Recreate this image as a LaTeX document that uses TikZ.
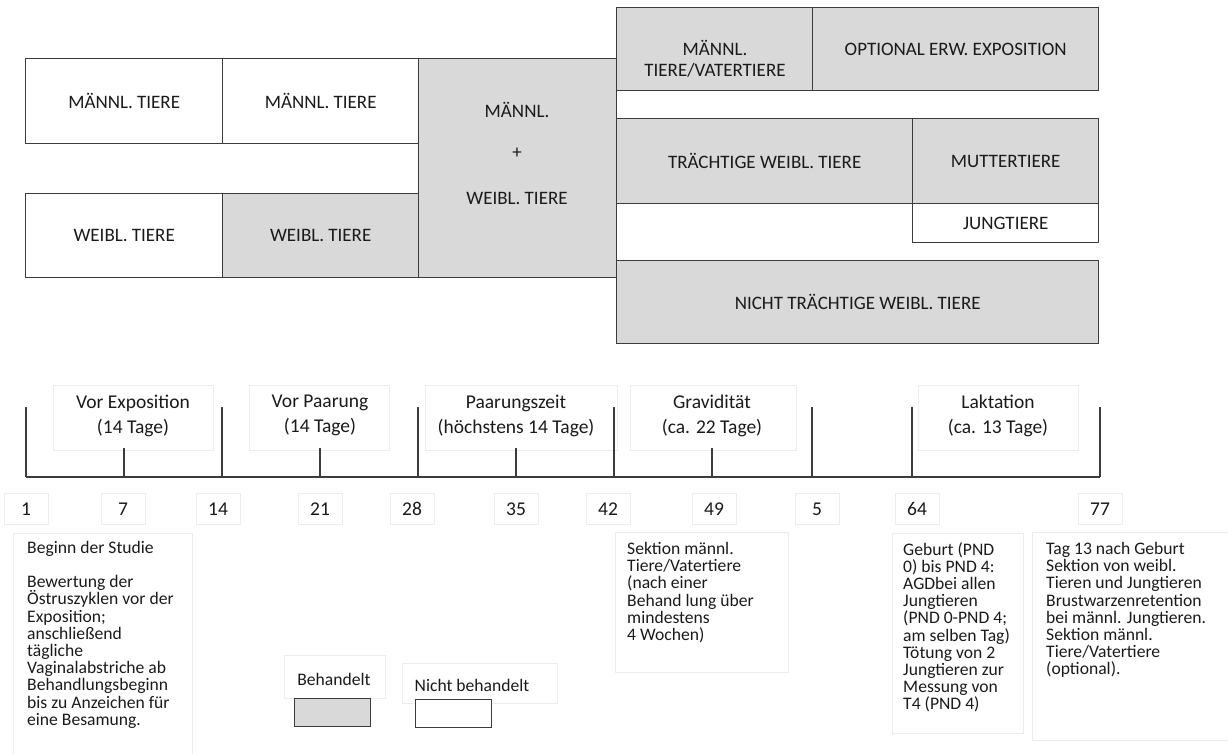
\documentclass[tikz,border=0pt]{standalone}
\usepackage{fontspec}
\setmainfont{Carlito}
\definecolor{fillg}{HTML}{D9D9D9}
\definecolor{edgec}{HTML}{3C3C3C}
\definecolor{faintc}{HTML}{ECECEC}
\definecolor{txt}{HTML}{1A1A1A}
\tikzset{
  grp/.style={draw=edgec, line width=1.4pt, anchor=north west, inner sep=0pt, text=txt,
    font=\fontsize{19}{22}\selectfont, align=center},
  grptext/.style={text=txt, font=\fontsize{19}{22}\selectfont, inner sep=0pt},
  faint/.style={draw=faintc, line width=1pt, anchor=north west, inner sep=0pt},
  lbl/.style={text=txt, font=\fontsize{19.5}{25}\selectfont, align=center, inner sep=0pt},
  num/.style={draw=faintc, line width=1pt, text=txt, font=\fontsize{19.5}{22}\selectfont,
    minimum width=44pt, minimum height=31pt, inner sep=0pt},
  body/.style={text=txt, font=\fontsize{17.6}{17.2}\selectfont,
    align=left, anchor=north west, inner sep=0pt},
  legtext/.style={text=txt, font=\fontsize{17.6}{20}\selectfont, inner sep=0pt},
  tl/.style={draw=edgec, line width=1.5pt},
  swatch/.style={draw=edgec, line width=1.4pt, anchor=north west, minimum width=76pt,
    minimum height=28pt, inner sep=0pt}
}
\begin{document}
\lineskiplimit=-50pt\relax
\begin{tikzpicture}[x=1pt, y=-1pt]
\useasboundingbox (0,0) rectangle (1228,753);

% ---- group boxes ----
\node[grp, minimum width=197pt, minimum height=85pt] (m1) at (25,58) {MÄNNL. TIERE};
\node[grp, minimum width=196pt, minimum height=85pt] (m2) at (222,58) {MÄNNL. TIERE};
\node[grp, minimum width=197pt, minimum height=84pt] (w1) at (25,193) {WEIBL. TIERE};
\node[grp, fill=fillg, minimum width=196pt, minimum height=84pt] (w2) at (222,193) {WEIBL. TIERE};
\node[grp, fill=fillg, minimum width=198pt, minimum height=219pt] (mw) at (418,58) {};
\node[grptext] (mwa) at (517,110) {MÄNNL.};
\node[grptext] (mwb) at (517,153) {+};
\node[grptext] (mwc) at (517,198) {WEIBL. TIERE};

\node[grp, fill=fillg, minimum width=196pt, minimum height=83pt] (vt) at (616,7) {};
\node[grptext] (vta) at (715,48) {MÄNNL.};
\node[grptext] (vtb) at (715,70) {TIERE/VATERTIERE};
\node[grp, fill=fillg, minimum width=286pt, minimum height=83pt] (opt) at (812,7) {OPTIONAL ERW. EXPOSITION};
\node[grp, fill=fillg, minimum width=296pt, minimum height=85pt] (tr) at (616,118) {TRÄCHTIGE WEIBL. TIERE};
\node[grp, fill=fillg, minimum width=186pt, minimum height=85pt] (mu) at (912,118) {MUTTERTIERE};
\node[grp, minimum width=186pt, minimum height=39pt] (ju) at (912,203) {JUNGTIERE};
\node[grp, fill=fillg, minimum width=482pt, minimum height=83pt] (nt) at (616,260) {NICHT TRÄCHTIGE WEIBL. TIERE};

% ---- phase labels ----
\node[faint, minimum width=160pt, minimum height=65pt] (fb1) at (53,385) {};
\node[faint, minimum width=140pt, minimum height=65pt] (fb2) at (249,385) {};
\node[faint, minimum width=192pt, minimum height=65pt] (fb3) at (425,385) {};
\node[faint, minimum width=166pt, minimum height=65pt] (fb4) at (630,385) {};
\node[faint, minimum width=160pt, minimum height=65pt] (fb5) at (918,385) {};
\node[lbl] (p1) at (133,415.5) {Vor Exposition\\(14 Tage)};
\node[lbl] (p2) at (320,415.5) {Vor Paarung\\(14 Tage)};
\node[lbl] (p3) at (516,415.5) {Paarungszeit\\(höchstens 14 Tage)};
\node[lbl] (p4) at (712,415.5) {Gravidität\\(ca. 22 Tage)};
\node[lbl] (p5) at (998,415.5) {Laktation\\(ca. 13 Tage)};

% ---- timeline ----
\coordinate (t1) at (26,477);
\coordinate (t7) at (124,477);
\coordinate (t14) at (222,477);
\coordinate (t21) at (320,477);
\coordinate (t28) at (418,477);
\coordinate (t35) at (516,477);
\coordinate (t42) at (614,477);
\coordinate (t49) at (712,477);
\coordinate (t56) at (812,477);
\coordinate (t64) at (912,477);
\coordinate (t77) at (1100,477);
\draw[tl] (t1) -- (t77);
\foreach \t in {t1,t14,t28,t42,t56,t64,t77} \draw[tl, line width=1.3pt] (\t) -- ++(0,-70);
\foreach \t in {t7,t21,t35,t49} \draw[tl, line width=1.3pt] (\t) -- ++(0,-29);

% ---- day numbers ----
\node[num] (n1) at (26,509) {1};
\node[num] (n7) at (123,509) {7};
\node[num] (n14) at (218,509) {14};
\node[num] (n21) at (320,509) {21};
\node[num] (n28) at (412,509) {28};
\node[num] (n35) at (516,509) {35};
\node[num] (n42) at (608,509) {42};
\node[num] (n49) at (714,509) {49};
\node[num] (n5) at (817,509) {5};
\node[num] (n64) at (917,509) {64};
\node[num] (n77) at (1100,509) {77};

% ---- notes ----
\node[faint, minimum width=179pt, minimum height=222pt] (bb1) at (13,533) {};
\node[faint, minimum width=173pt, minimum height=140pt] (bb2) at (615,532) {};
\node[faint, minimum width=131pt, minimum height=200pt] (bb3) at (892,533) {};
\node[faint, minimum width=200pt, minimum height=208pt] (bb4) at (1032,532) {};

\node[body] (tx1) at (27,541) {Beginn der Studie\\[17pt]Bewertung der\\Östruszyklen vor der\\Exposition;\\anschließend\\tägliche\\Vaginalabstriche ab\\Behandlungsbeginn\\bis zu Anzeichen für\\eine Besamung.};
\node[body] (tx2) at (627,542) {Sektion männl.\\Tiere/Vatertiere\\(nach einer\\Behand lung über\\mindestens\\4 Wochen)};
\node[body] (tx3) at (903,542) {Geburt (PND\\0) bis PND 4:\\AGDbei allen\\Jungtieren\\(PND 0-PND 4;\\am selben Tag)\\Tötung von 2\\Jungtieren zur\\Messung von\\T4 (PND 4)};
\node[body] (tx4) at (1046,542) {Tag 13 nach Geburt\\Sektion von weibl.\\Tieren und Jungtieren\\Brustwarzenretention\\bei männl. Jungtieren.\\Sektion männl.\\Tiere/Vatertiere\\(optional).};

% ---- legend ----
\node[faint, minimum width=101pt, minimum height=43pt] (lgb1) at (284,655) {};
\node[legtext] (lg1) at (334,679) {Behandelt};
\node[swatch, fill=fillg] (sw1) at (294,698) {};
\node[faint, minimum width=155pt, minimum height=40pt] (lgb2) at (402,663) {};
\node[legtext] (lg2) at (472,685) {Nicht behandelt};
\node[swatch, fill=white] (sw2) at (415,699) {};
\end{tikzpicture}
\end{document}
